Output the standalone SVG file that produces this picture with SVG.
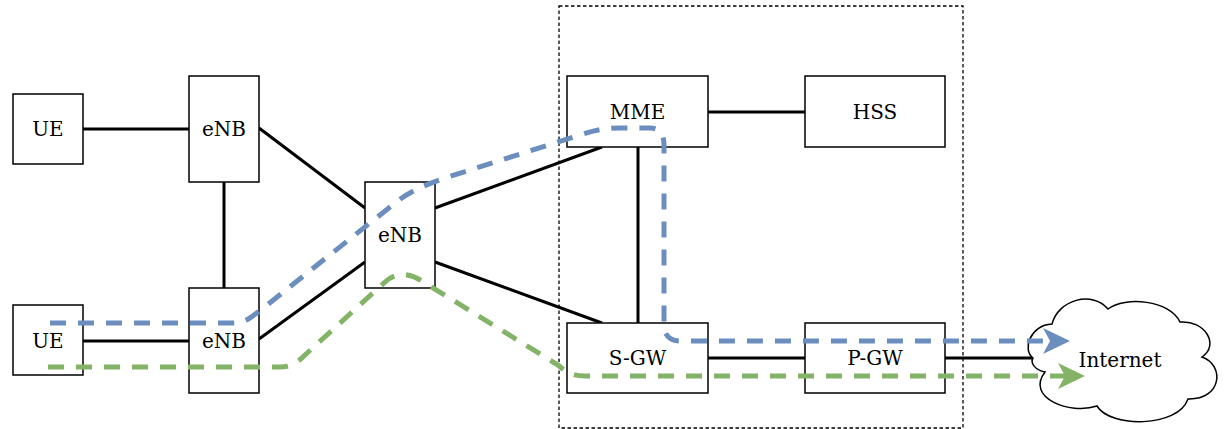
<svg xmlns="http://www.w3.org/2000/svg" width="1224" height="429" viewBox="0 0 1224 429">
  <style>
    .box { fill: #ffffff; stroke: #000000; stroke-width: 1.5; }
    .label { font-family: "DejaVu Serif", "Liberation Serif", serif; font-size: 20px; fill: #000000; text-anchor: middle; }
    .link { stroke: #000000; stroke-width: 3; fill: none; }
    .core { fill: none; stroke: #000000; stroke-width: 1.3; stroke-dasharray: 3.5 2.5; }
    .flow { fill: none; stroke-width: 5; stroke-dasharray: 16 12; }
    .blue { stroke: #6c8ebf; }
    .green { stroke: #82b366; }
  </style>
  <defs>
    <marker id="arrow-blue" viewBox="0 0 27 26" refX="7" refY="13" markerWidth="27" markerHeight="26" markerUnits="userSpaceOnUse" orient="auto">
      <path d="M0,0 L27,13 L0,26 L7,13 Z" fill="#6c8ebf"/>
    </marker>
    <marker id="arrow-green" viewBox="0 0 27 26" refX="7" refY="13" markerWidth="27" markerHeight="26" markerUnits="userSpaceOnUse" orient="auto">
      <path d="M0,0 L27,13 L0,26 L7,13 Z" fill="#82b366"/>
    </marker>
  </defs>

  <!-- EPC core boundary -->
  <rect id="core-boundary" class="core" x="559" y="6" width="404" height="422"/>

  <!-- links between network elements -->
  <g id="connectors">
    <line class="link" x1="83" y1="129" x2="189" y2="129"/>
    <line class="link" x1="224" y1="182" x2="224" y2="288"/>
    <line class="link" x1="83" y1="341" x2="189" y2="341"/>
    <line class="link" x1="259" y1="128" x2="365" y2="208"/>
    <line class="link" x1="259" y1="339" x2="365" y2="262"/>
    <line class="link" x1="435" y1="208" x2="602" y2="147"/>
    <line class="link" x1="435" y1="262" x2="602" y2="323"/>
    <line class="link" x1="638" y1="147" x2="638" y2="323"/>
    <line class="link" x1="708" y1="112" x2="805" y2="112"/>
    <line class="link" x1="708" y1="358" x2="805" y2="358"/>
    <line class="link" x1="945" y1="358" x2="1040" y2="358"/>
  </g>

  <g id="ue1">
    <rect class="box" x="13" y="94" width="70" height="70"/>
    <text class="label" x="48" y="136">UE</text>
  </g>
  <g id="ue2">
    <rect class="box" x="13" y="305" width="70" height="70"/>
    <text class="label" x="48" y="348">UE</text>
  </g>
  <g id="enb1">
    <rect class="box" x="189" y="76" width="70" height="106"/>
    <text class="label" x="224" y="136">eNB</text>
  </g>
  <g id="enb2">
    <rect class="box" x="189" y="288" width="70" height="105"/>
    <text class="label" x="224" y="348">eNB</text>
  </g>
  <g id="enb3">
    <rect class="box" x="365" y="182" width="70" height="106"/>
    <text class="label" x="400" y="242">eNB</text>
  </g>
  <g id="mme">
    <rect class="box" x="567" y="76" width="141" height="71"/>
    <text class="label" x="637.5" y="118.5">MME</text>
  </g>
  <g id="hss">
    <rect class="box" x="805" y="76" width="140" height="71"/>
    <text class="label" x="875" y="118.5">HSS</text>
  </g>
  <g id="sgw">
    <rect class="box" x="567" y="323" width="141" height="70"/>
    <text class="label" x="637.5" y="365">S-GW</text>
  </g>
  <g id="pgw">
    <rect class="box" x="805" y="323" width="140" height="70"/>
    <text class="label" x="875" y="365">P-GW</text>
  </g>
  <g id="internet">
    <path class="box" d="M1033,358 C1022,350 1030,325 1052,324 C1058,300 1092,290 1108,309 C1125,296 1170,300 1180,322 C1205,320 1220,345 1202,357 C1225,365 1222,400 1188,399 C1178,428 1110,428 1097,406 C1070,415 1025,398 1045,372 C1035,370 1030,363 1033,358 Z"/>
    <text class="label" x="1120" y="367">Internet</text>
  </g>

  <!-- signalling / data flows -->
  <g id="flows">
    <path class="flow blue" marker-end="url(#arrow-blue)" d="M50,323 H232 C245,323 250,318 262,309 L395,203 C410,191 425,185 445,178 L580,135 C595,130 605,128 620,128 H650 C660,128 664,135 664,145 V325 C664,335 670,341 680,341 H1050"/>
    <path class="flow green" marker-end="url(#arrow-green)" d="M48,367 H280 C292,367 298,362 305,355 L385,282 C395,272 410,272 425,283 L558,365 C566,372 572,376 585,376 H1065"/>
  </g>
</svg>
